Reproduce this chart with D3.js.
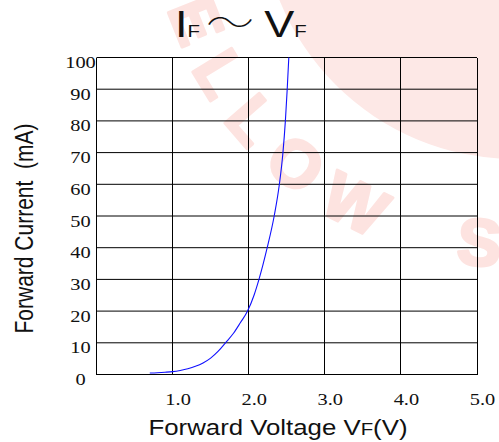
<!DOCTYPE html>
<html>
<head>
<meta charset="utf-8">
<script src="https://cdn.jsdelivr.net/npm/d3@7/dist/d3.min.js"></script>
<style>
  html, body { margin: 0; padding: 0; background: #fff; }
  svg { display: block; }
</style>
</head>
<body>
<svg id="chart" width="499" height="442"></svg>
<script>
// ---- data ----
const forwardVoltage = [0.70, 0.80, 0.90, 1.00, 1.10, 1.20, 1.30, 1.40, 1.50, 1.60, 1.695, 1.80, 1.89, 1.985, 2.07, 2.135, 2.243, 2.335, 2.403, 2.45, 2.482, 2.506, 2.527];
const forwardCurrent = [0.45, 0.55, 0.7, 0.9, 1.28, 1.81, 2.57, 3.65, 5.18, 7.35, 10, 13, 16.3, 20, 25, 30, 40, 50, 60, 70, 80, 90, 100];
const xTickValues = [1, 2, 3, 4, 5];
const xTickLabels = ["1.0", "2.0", "3.0", "4.0", "5.0"];
const yTickValues = [0, 10, 20, 30, 40, 50, 60, 70, 80, 90, 100];
const yTickLabels = ["0", "10", "20", "30", "40", "50", "60", "70", "80", "90", "100"];
const watermarkText = "YELLOW  STONE";

// ---- layout ----
const svg = d3.select("#chart");
const plotLeft = 96.5, plotRight = 477, plotTop = 57.5, plotBottom = 374.5;
const stretch = 1.2;
const x = d3.scaleLinear().domain([0, 5]).range([plotLeft, plotRight]);
const y = d3.scaleLinear().domain([0, 100]).range([plotBottom, plotTop]);

// ---- watermark ----
const wm = svg.append("g").attr("class", "watermark");
const cx = 515, cy = -95;
wm.append("circle").attr("cx", cx).attr("cy", cy).attr("r", 254).attr("fill", "#fde8e6");
const rb = 362;
const a0 = 200 * Math.PI / 180, a1 = 40 * Math.PI / 180;
const p0 = [cx + rb * Math.cos(a0), cy + rb * Math.sin(a0)];
const p1 = [cx + rb * Math.cos(a1), cy + rb * Math.sin(a1)];
wm.append("path").attr("id", "wmArc")
  .attr("d", `M${p0[0]},${p0[1]} A${rb},${rb} 0 0 0 ${p1[0]},${p1[1]}`)
  .attr("fill", "none");
const arcToE = rb * (40 * Math.PI / 180);
wm.append("text")
  .attr("font-family", "Liberation Sans, Arial, sans-serif")
  .attr("font-weight", "bold")
  .attr("font-size", 66)
  .attr("letter-spacing", 20)
  .attr("word-spacing", 28)
  .attr("fill", "#fde3e0")
  .attr("stroke", "#fde3e0")
  .attr("stroke-width", 3)
  .attr("stroke-linejoin", "round")
  .append("textPath")
  .attr("href", "#wmArc")
  .attr("startOffset", arcToE - 86)
  .text(watermarkText);

// ---- grid ----
const grid = svg.append("g").attr("stroke", "#000").attr("stroke-width", 1);
grid.selectAll("line.v").data([0].concat(xTickValues)).enter().append("line")
  .attr("class", "v")
  .attr("x1", d => x(d)).attr("x2", d => x(d))
  .attr("y1", y(0)).attr("y2", y(100))
  .attr("shape-rendering", "crispEdges");
grid.selectAll("line.h").data(yTickValues).enter().append("line")
  .attr("class", "h")
  .attr("x1", x(0)).attr("x2", x(5))
  .attr("y1", d => y(d)).attr("y2", d => y(d));

// ---- curve ----
const pts = forwardVoltage.map((v, i) => [v, forwardCurrent[i]]);
svg.append("path")
  .datum(pts)
  .attr("fill", "none")
  .attr("stroke", "#1010ff")
  .attr("stroke-width", 1.1)
  .attr("d", d3.line().x(d => x(d[0])).y(d => y(d[1])).curve(d3.curveMonotoneX));

// ---- tick labels ----
const serif = "Liberation Serif, Times New Roman, serif";
svg.append("g").selectAll("text").data(yTickValues).enter().append("text")
  .attr("transform", d => `translate(80.5,${y(d) + 10.5}) scale(${stretch},1)`)
  .attr("text-anchor", "middle")
  .attr("font-family", serif)
  .attr("font-size", 17)
  .attr("fill", "#111")
  .text((d, i) => yTickLabels[i]);

svg.append("g").selectAll("text").data(xTickValues).enter().append("text")
  .attr("transform", d => `translate(${x(d) + 5.5},405) scale(${stretch},1)`)
  .attr("text-anchor", "middle")
  .attr("font-family", serif)
  .attr("font-size", 17)
  .attr("fill", "#111")
  .text((d, i) => xTickLabels[i]);

// ---- axis titles ----
const sans = "Liberation Sans, Arial, sans-serif";
const xt = svg.append("text")
  .attr("transform", `translate(278,435) scale(1.2,1)`)
  .attr("text-anchor", "middle")
  .attr("font-family", sans)
  .attr("font-size", 21.5)
  .attr("fill", "#111");
xt.append("tspan").text("Forward Voltage V");
xt.append("tspan").attr("font-size", 17).text("F");
xt.append("tspan").text("(V)");

svg.append("text")
  .attr("transform", `translate(33,228.5) scale(${stretch},1) rotate(-90)`)
  .attr("text-anchor", "middle")
  .attr("font-family", sans)
  .attr("font-size", 21)
  .attr("fill", "#111")
  .style("white-space", "pre")
  .text("Forward Current  (mA)");

// ---- title ----
const tt = svg.append("text")
  .attr("transform", `translate(175,37) scale(${stretch},1)`)
  .attr("font-family", sans)
  .attr("font-size", 37.5)
  .attr("fill", "#111")
  .style("white-space", "pre");
tt.append("tspan").text("I");
tt.append("tspan").attr("font-size", 17).text("F");
tt.append("tspan").attr("font-family", "Noto Sans CJK JP").attr("font-weight", 100).attr("font-size", 40).attr("dx", 5).text("\u301C");
tt.append("tspan").attr("dx", 8.5).text("V");
tt.append("tspan").attr("font-size", 17).text("F");
</script>
</body>
</html>
